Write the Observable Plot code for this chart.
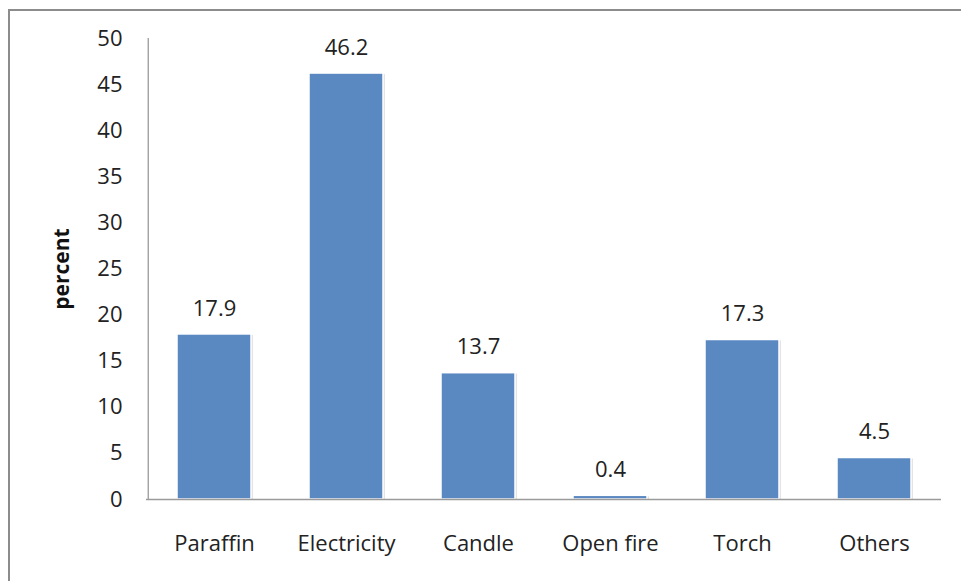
<!DOCTYPE html>
<html>
<head>
<meta charset="utf-8">
<script src="https://cdn.jsdelivr.net/npm/d3@7"></script>
<script src="https://cdn.jsdelivr.net/npm/@observablehq/plot@0.6"></script>
<style>
  html, body { margin: 0; padding: 0; background: #fff; overflow: hidden; }
  #wrap { position: relative; width: 961px; height: 581px; }
  #frame { position: absolute; left: 8px; top: 9px; width: 970px; height: 590px; border: 2px solid #8c8c8c; box-sizing: border-box; pointer-events: none; }
  #chart { position: absolute; left: 0; top: 0; }
</style>
</head>
<body>
<div id="wrap"><div id="chart"></div><div id="frame"></div></div>
<script>
const categories = ["Paraffin", "Electricity", "Candle", "Open fire", "Torch", "Others"];
const values = [17.9, 46.2, 13.7, 0.4, 17.3, 4.5];
const yTicks = [0, 5, 10, 15, 20, 25, 30, 35, 40, 45, 50];
const yLabel = "percent";

const data = categories.map((c, i) => ({category: c, value: values[i]}));
const font = "'Open Sans', sans-serif";

const plot = Plot.plot({
  width: 961,
  height: 581,
  marginLeft: 146,
  marginRight: 20,
  marginTop: 38,
  marginBottom: 82,
  style: {fontFamily: font, fontSize: "22px", color: "#222", background: "transparent"},
  x: {domain: categories, paddingInner: 0.44, paddingOuter: 0.22, label: null, tickSize: 0, tickPadding: 36},
  y: {domain: [0, 50], ticks: yTicks, label: null, tickSize: 0, tickPadding: 24},
  marks: [
    Plot.barY(data, {x: "category", y: "value", fill: "#d0d0d0", dx: 2, dy: 1, opacity: 0.6}),
    Plot.barY(data, {x: "category", y: "value", fill: "#5a89c2", stroke: "white", strokeWidth: 1.5}),
    Plot.text(data, {x: "category", y: "value", text: d => d.value.toFixed(1), dy: -26, fontSize: 22, fill: "#222"}),
    Plot.ruleY([0], {stroke: "#9a9a9a", strokeWidth: 1.3}),
    Plot.ruleX([0], {x: () => categories[0], y1: 0, y2: 50, stroke: "#9a9a9a", strokeWidth: 1.3, dx: -66.25}),
    Plot.text([yLabel], {frameAnchor: "left", textAnchor: "middle", dx: -84, rotate: -90, fontWeight: "bold", fontSize: 21, fill: "#111"})
  ]
});
document.getElementById("chart").appendChild(plot);
</script>
</body>
</html>
